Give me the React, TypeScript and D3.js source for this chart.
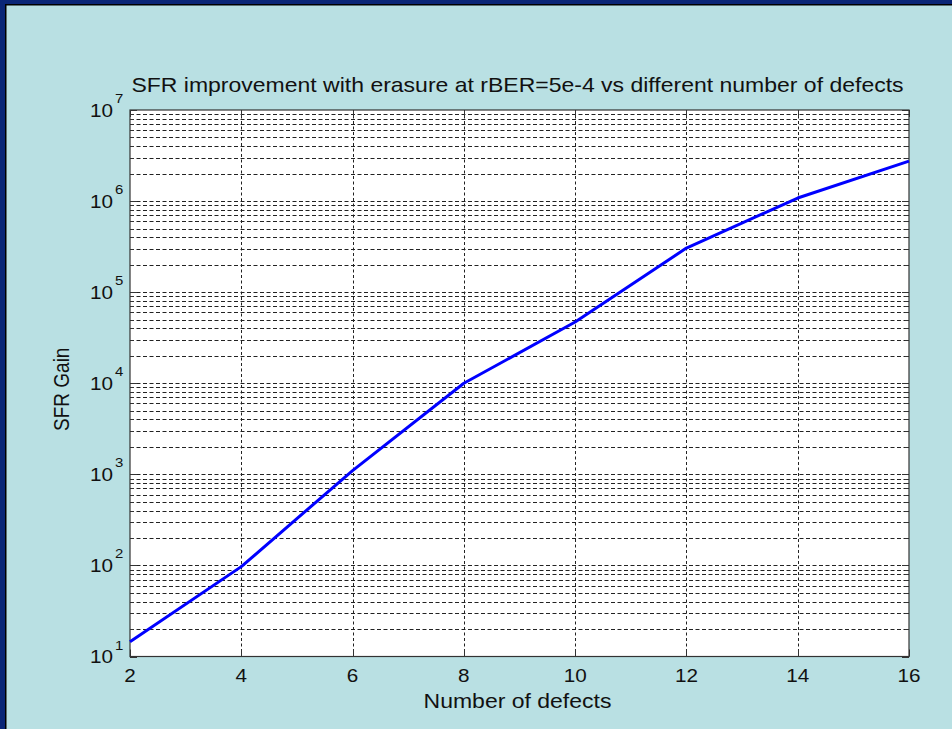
import { useEffect, useRef } from 'react';
import * as d3 from 'd3';

const defects = [2, 4, 6, 8, 10, 12, 14, 16];
const sfrGain = [14.5, 97, 1100, 10000, 47000, 305000, 1080000, 2750000];
const xTicks = [2, 4, 6, 8, 10, 12, 14, 16];
const decades = [1, 2, 3, 4, 5, 6, 7];

const title = 'SFR improvement with erasure at rBER=5e-4 vs different number of defects';
const xLabel = 'Number of defects';
const yLabel = 'SFR Gain';

const App = () => {
	const ref = useRef<SVGSVGElement>(null);

	useEffect(() => {
		const width = 952,
			height = 729;
		const margin = { top: 110, right: 43, bottom: 72.5, left: 130 };
		const stretch = 1.15; // the picture is a little wider than tall text

		const svg = d3.select(ref.current).attr('width', width).attr('height', height);
		svg.selectAll('*').remove();

		// slide background with the dark frame top and left
		svg.append('rect').attr('width', width).attr('height', height).attr('fill', '#0b2677');
		svg.append('rect').attr('x', 5).attr('y', 4).attr('width', width).attr('height', height).attr('fill', '#000');
		svg.append('rect').attr('x', 6.5).attr('y', 5.5).attr('width', width).attr('height', height).attr('fill', '#b9e0e3');

		const x = d3
			.scaleLinear()
			.domain([2, 16])
			.range([margin.left, width - margin.right]);
		const y = d3
			.scaleLog()
			.domain([10, 1e7])
			.range([height - margin.bottom, margin.top]);

		const [x0, x1] = x.range();
		const [y0, y1] = y.range();

		svg
			.append('rect')
			.attr('x', x0)
			.attr('y', y1)
			.attr('width', x1 - x0)
			.attr('height', y0 - y1)
			.attr('fill', '#fff');

		// horizontal grid, every minor step of each decade
		const hValues: number[] = [];
		for (let d = 1; d < 7; d++) for (let k = 1; k < 10; k++) hValues.push(k * Math.pow(10, d));

		const grid = svg.append('g').attr('stroke', '#222').attr('stroke-width', 1);
		grid
			.selectAll('line.h')
			.data(hValues.filter((v) => v > 10))
			.join('line')
			.attr('x1', x0)
			.attr('x2', x1)
			.attr('y1', (d) => Math.round(y(d)) + 0.5)
			.attr('y2', (d) => Math.round(y(d)) + 0.5)
			.attr('stroke-dasharray', '4,2.5');

		grid
			.selectAll('line.v')
			.data(xTicks.slice(1, -1))
			.join('line')
			.attr('x1', (d) => Math.round(x(d)) + 0.5)
			.attr('x2', (d) => Math.round(x(d)) + 0.5)
			.attr('y1', y1)
			.attr('y2', y0)
			.attr('stroke-dasharray', '3,2.5');

		// ticks inside the box
		const ticks = svg.append('g').attr('stroke', '#333').attr('stroke-width', 1);
		hValues.concat([1e7]).forEach((v) => {
			const major = Math.abs(Math.log10(v) % 1) < 1e-9;
			const len = major ? 7 : 4;
			const yy = Math.round(y(v)) + 0.5;
			ticks.append('line').attr('x1', x0).attr('x2', x0 + len).attr('y1', yy).attr('y2', yy);
			ticks.append('line').attr('x1', x1).attr('x2', x1 - len).attr('y1', yy).attr('y2', yy);
		});
		xTicks.forEach((v) => {
			const xx = Math.round(x(v)) + 0.5;
			ticks.append('line').attr('x1', xx).attr('x2', xx).attr('y1', y0).attr('y2', y0 - 7);
			ticks.append('line').attr('x1', xx).attr('x2', xx).attr('y1', y1).attr('y2', y1 + 7);
		});

		svg
			.append('rect')
			.attr('x', x0)
			.attr('y', y1)
			.attr('width', x1 - x0)
			.attr('height', y0 - y1)
			.attr('fill', 'none')
			.attr('stroke', '#333')
			.attr('stroke-width', 1.2);

		// data line
		const line = d3
			.line<number>()
			.x((d, i) => x(defects[i]))
			.y((d) => y(d));
		svg
			.append('path')
			.datum(sfrGain)
			.attr('d', line)
			.attr('fill', 'none')
			.attr('stroke', '#0000ff')
			.attr('stroke-width', 3)
			.attr('stroke-linejoin', 'round');

		// text helper, stretched horizontally like the picture
		const font = 'Arial, "Liberation Sans", sans-serif';
		const txt = (
			tx: number,
			ty: number,
			s: string,
			size: number,
			anchor: string,
			rotate = 0
		) =>
			svg
				.append('text')
				.attr('transform', `translate(${tx},${ty}) scale(${stretch},1) rotate(${rotate})`)
				.attr('text-anchor', anchor)
				.attr('font-family', font)
				.attr('font-size', size)
				.attr('fill', '#111')
				.text(s);

		xTicks.forEach((v) => txt(x(v), y0 + 25.5, String(v), 18, 'middle'));

		decades.forEach((d) => {
			const yy = y(Math.pow(10, d));
			txt(113, yy + 6.5, '10', 18, 'end');
			txt(115, yy - 7, String(d), 13, 'start');
		});

		txt((x0 + x1) / 2 - 2, 92, title, 20, 'middle');
		txt((x0 + x1) / 2 - 2, 708, xLabel, 20, 'middle');
		txt(69, (y0 + y1) / 2 + 6, yLabel, 19, 'middle', -90);
	}, []);

	return (
		<svg
			ref={ref}
			style={{ position: 'absolute', left: 0, top: 0, display: 'block' }}
			width={952}
			height={729}
		></svg>
	);
};

export default App;
